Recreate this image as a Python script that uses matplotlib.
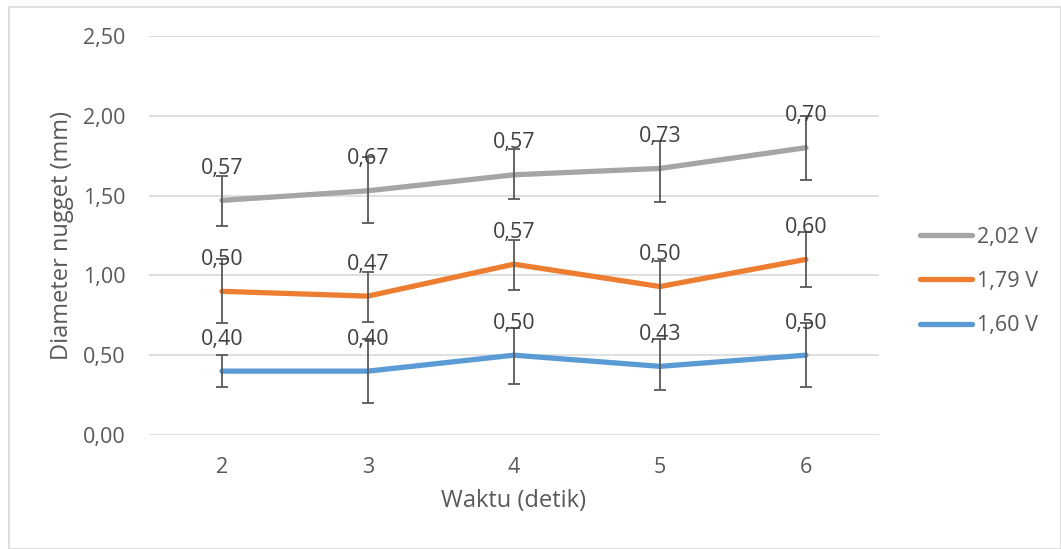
"""
Diameter nugget vs waktu for three voltages,
with error bars and Excel style data labels.
"""

import matplotlib
matplotlib.use("Agg")
import matplotlib.pyplot as plt
from matplotlib.patches import Rectangle

plt.rcParams['font.family'] = ['Open Sans', 'DejaVu Sans']

waktu = [2, 3, 4, 5, 6]
series_names = ["2,02 V", "1,79 V", "1,60 V"]
colors = ["#A5A5A5", "#ED7D31", "#5B9BD5"]

# mean diameter per series
diam_202 = [1.47, 1.53, 1.63, 1.67, 1.80]
diam_179 = [0.90, 0.87, 1.07, 0.93, 1.10]
diam_160 = [0.40, 0.40, 0.50, 0.43, 0.50]

# error bar ends (low, high)
low_202 = [1.31, 1.33, 1.48, 1.46, 1.60]
high_202 = [1.62, 1.74, 1.79, 1.84, 2.00]
low_179 = [0.70, 0.71, 0.91, 0.76, 0.93]
high_179 = [1.10, 1.02, 1.22, 1.09, 1.27]
low_160 = [0.30, 0.20, 0.32, 0.28, 0.30]
high_160 = [0.50, 0.60, 0.67, 0.60, 0.70]

# data label texts
labels_202 = ["0,57", "0,67", "0,57", "0,73", "0,70"]
labels_179 = ["0,50", "0,47", "0,57", "0,50", "0,60"]
labels_160 = ["0,40", "0,40", "0,50", "0,43", "0,50"]

yticks = [0.0, 0.5, 1.0, 1.5, 2.0, 2.5]
ytick_labels = ["0,00", "0,50", "1,00", "1,50", "2,00", "2,50"]

fig = plt.figure(figsize=(10.61, 5.49), dpi=100)
fig.patches.append(Rectangle((9 / 1061, 0), 1 - 9 / 1061, 1 - 7 / 549,
                             transform=fig.transFigure, fill=False,
                             edgecolor="#D9D9D9", lw=1.2))
ax = fig.add_axes([0.1404, 0.2077, 0.688, 0.7268])

all_y = [diam_202, diam_179, diam_160]
all_lo = [low_202, low_179, low_160]
all_hi = [high_202, high_179, high_160]
all_lab = [labels_202, labels_179, labels_160]

for name, col, ys, lo, hi, labs in zip(series_names, colors, all_y, all_lo, all_hi, all_lab):
    ax.plot(waktu, ys, color=col, lw=3.8, solid_capstyle="round",
            solid_joinstyle="round", label=name, zorder=3)
    err = [[y - l for y, l in zip(ys, lo)], [h - y for y, h in zip(ys, hi)]]
    ax.errorbar(waktu, ys, yerr=err, fmt="none", ecolor="#595959",
                elinewidth=1.3, capsize=4.3, capthick=1.3, zorder=4)
    for x, y, t in zip(waktu, ys, labs):
        ax.annotate(t, (x, y), xytext=(0, 23), textcoords="offset points",
                    ha="center", va="center", fontsize=15.5, color="#404040",
                    zorder=5)

ax.set_xlim(1.5, 6.5)
ax.set_ylim(0, 2.5)
ax.set_xticks(waktu)
ax.set_xticklabels([str(w) for w in waktu])
ax.set_yticks(yticks)
ax.set_yticklabels(ytick_labels)
ax.tick_params(length=0, labelsize=15.5, labelcolor="#595959")
ax.tick_params(axis="y", pad=17)
ax.tick_params(axis="x", pad=16)
ax.grid(axis="y", color="#D9D9D9", lw=1.2)
ax.set_axisbelow(True)
for s in ax.spines.values():
    s.set_visible(False)

ax.set_xlabel("Waktu (detik)", fontsize=17, color="#595959", labelpad=8)
ax.set_ylabel("Diameter nugget (mm)", fontsize=17, color="#595959", labelpad=6)

leg = ax.legend(loc="center left", bbox_to_anchor=(1.03, 0.385), frameon=False,
                fontsize=15.5, labelcolor="#595959", handlelength=2.4,
                handletextpad=0.25, labelspacing=1.08)

fig.savefig("out.png", dpi=100)
